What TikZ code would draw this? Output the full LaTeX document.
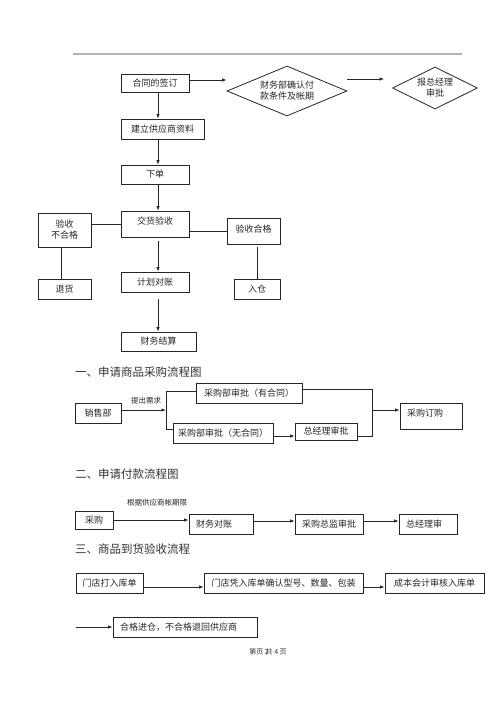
\documentclass[tikz,border=0pt]{standalone}
\usepackage{fontspec}
\setmainfont{Noto Sans CJK SC}
\usetikzlibrary{arrows.meta,shapes.geometric}
\begin{document}
\begin{tikzpicture}[x=1pt,y=-1pt,
  box/.style={draw=black!85, line width=0.8pt, rectangle, inner xsep=2pt, inner ysep=0pt,
    font=\fontsize{9}{11}\selectfont, text=black!85, align=center},
  lbox/.style={box, align=left, inner xsep=7pt, text width=#1},
  dia/.style={draw=black!85, line width=0.8pt, diamond, inner sep=0pt,
    font=\fontsize{9}{11}\selectfont, text=black!85, align=center},
  ln/.style={draw=black!85, line width=0.8pt},
  arr/.style={ln, -{Latex[length=4.5pt,width=3.5pt]}},
  lab/.style={font=\fontsize{7.5}{9}\selectfont, text=black!85, inner sep=0pt},
  head/.style={font=\fontsize{11.5}{13}\selectfont, anchor=west, inner sep=0pt, text=black!80},
  foot/.style={font=\fontsize{7}{8}\selectfont, inner sep=0pt, text=black!80}]
\useasboundingbox (0,0) rectangle (500,707);
\fill[white] (0,0) rectangle (500,707);

% top rule
\coordinate (tl) at (73,54);
\coordinate (tr) at (462,54);
\draw[gray!60, line width=1.2pt] (tl) -- (tr);

% ---------- top flow ----------
\node[box, minimum width=68pt, minimum height=18pt] (ht) at (155,83) {合同的签订};
\node[dia, minimum width=120pt, minimum height=50pt, shape aspect=2.4] (d1) at (287,91) {财务部确认付\\款条件及帐期};
\node[dia, minimum width=85pt, minimum height=42pt, shape aspect=2] (d2) at (435,88) {报总经理\\审批};
\node[box, minimum width=83pt, minimum height=20pt] (jl) at (162.5,129) {建立供应商资料};
\node[box, minimum width=68pt, minimum height=19pt] (xd) at (155,174.5) {下单};
\node[box, minimum width=68pt, minimum height=26pt, text depth=6pt] (jh) at (155,224) {交货验收};
\node[box, minimum width=53pt, minimum height=34pt] (bhg) at (64.5,230) {验收\\不合格};
\node[box, minimum width=53pt, minimum height=26pt, text depth=5pt] (hg) at (253.5,231) {验收合格};
\node[box, minimum width=53pt, minimum height=20pt] (th) at (64.5,289) {退货};
\node[box, minimum width=46pt, minimum height=20pt] (rc) at (257,289) {入仓};
\node[box, minimum width=68pt, minimum height=20pt] (jz) at (155,282) {计划对账};
\node[box, minimum width=75pt, minimum height=19pt] (cw) at (158.5,341.5) {财务结算};

\draw[arr] ([yshift=3pt]ht.east) -- ([yshift=3pt]ht.east -| d1.west);
\draw[arr] ([yshift=12pt]d1.east) -- ([xshift=-8pt,yshift=12pt]d1.east -| d2.west);
\draw[arr] ([xshift=3pt]ht.south) -- ([xshift=3pt]ht.south |- jl.north);
\draw[arr] ([xshift=3pt]xd.north |- jl.south) -- ([xshift=3pt]xd.north);
\draw[arr] ([xshift=3pt]xd.south) -- ([xshift=3pt]xd.south |- jh.north);
\draw[ln] (bhg.east |- jh.west) -- (jh.west);
\draw[ln] (hg.west -| jh.east) -- (hg.west);
\draw[ln] ([xshift=-3.5pt]bhg.south) -- ([xshift=-3.5pt]bhg.south |- th.north);
\draw[ln] ([yshift=-3pt]rc.north |- hg.south) -- (rc.north);
\draw[arr] ([xshift=3pt,yshift=-4pt]jh.south) -- ([xshift=3pt]jh.south |- jz.north);
\draw[arr] ([xshift=3pt,yshift=-7pt]jz.south) -- ([xshift=3pt]jz.south |- cw.north);

% ---------- section 1 ----------
\node[head] (h1) at (75,372) {一、申请商品采购流程图};
\node[box, minimum width=46pt, minimum height=20pt] (xs) at (98,413) {销售部};
\node[box, minimum width=106pt, minimum height=20pt] (yh) at (249,393) {采购部审批（有合同）};
\node[box, minimum width=100pt, minimum height=20pt] (wh) at (223,433) {采购部审批（无合同）};
\node[box, minimum width=62pt, minimum height=17pt] (zj) at (326,431.5) {总经理审批};
\node[lbox=48pt, minimum height=26pt, text depth=6pt] (cg) at (431,416) {采购订购};
\node[lab] (tc) at (146,401) {提出需求};

\coordinate (br) at (166,410);
\coordinate (bt) at (166,391);
\coordinate (bb) at (166,429);
\coordinate (rt) at (372,389);
\coordinate (rb) at (372,436);
\coordinate (rm) at (372,410);
\draw[arr] ([yshift=3pt]xs.east) -- (br);
\draw[ln] (bt -| yh.west) -- (bt) -- (bb) -- (bb -| wh.west);
\draw[arr] ([yshift=-3pt]wh.east) -- ([yshift=-3pt]wh.east -| zj.west);
\draw[ln] (rt -| yh.east) -- (rt) -- (rb) -- (rb -| zj.east);
\draw[arr] (rm) -- (rm -| cg.west);

% ---------- section 2 ----------
\node[head] (h2) at (75,474) {二、申请付款流程图};
\node[lab] (gj) at (157,503) {根据供应商帐期限};
\node[box, minimum width=38pt, minimum height=18pt] (cg2) at (94,520) {采购};
\node[lbox=50pt, minimum height=20pt] (cd) at (221,524) {财务对账};
\node[box, minimum width=68pt, minimum height=20pt] (cz) at (329,524) {采购总监审批};
\node[lbox=44pt, minimum height=20pt] (zs) at (428,524) {总经理审};
\draw[arr] (cg2.east) -- (cg2.east -| cd.west);
\draw[arr] ([yshift=3pt]cd.east) -- ([yshift=3pt]cd.east -| cz.west);
\draw[arr] ([yshift=3pt]cz.east) -- ([yshift=3pt]cz.east -| zs.west);

% ---------- section 3 ----------
\node[head] (h3) at (75,549) {三、商品到货验收流程};
\node[box, minimum width=67pt, minimum height=20pt] (md) at (109.5,583) {门店打入库单};
\node[box, minimum width=159pt, minimum height=20pt] (mp) at (283.5,583) {门店凭入库单确认型号、数量、包装};
\node[box, minimum width=99pt, minimum height=20pt] (cb) at (434.5,583) {成本会计审核入库单};
\node[lbox=130pt, minimum height=20pt] (hj) at (185,627) {合格进仓，不合格退回供应商};
\coordinate (fs) at (76,627);
\draw[arr] ([yshift=-4pt]md.east) -- ([yshift=-4pt]md.east -| mp.west);
\draw[arr] ([yshift=-4pt]mp.east) -- ([yshift=-4pt]mp.east -| cb.west);
\draw[arr] (fs) -- (fs -| hj.west);

\node[foot] (ft) at (268,652) {第页 2\kern-3pt共 4 页};
\end{tikzpicture}
\end{document}
